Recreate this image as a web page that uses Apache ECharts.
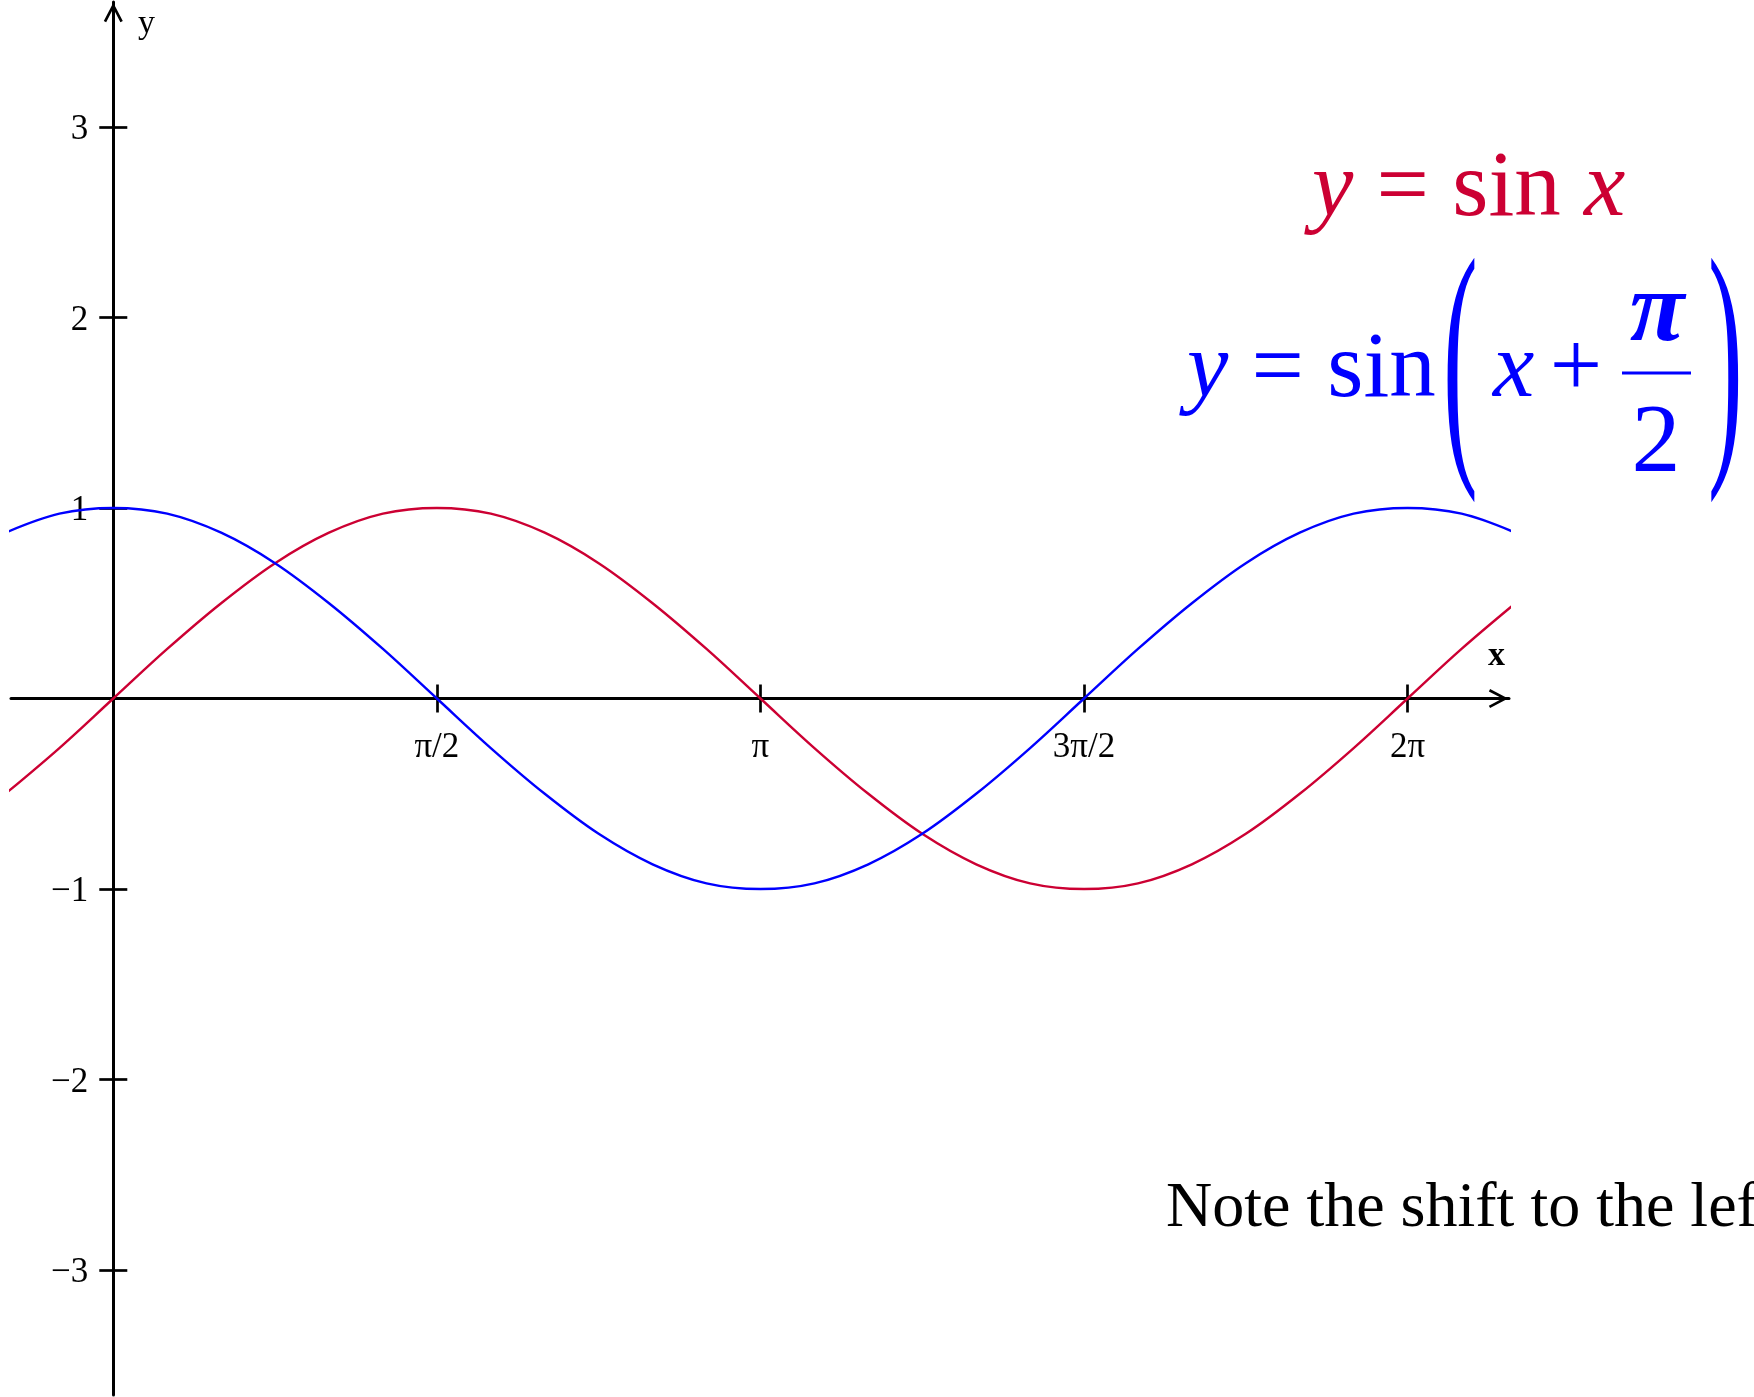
<!DOCTYPE html>
<html>
<head>
<meta charset="utf-8">
<script src="https://cdn.jsdelivr.net/npm/echarts@6/dist/echarts.min.js"></script>
<style>
  html, body { margin: 0; padding: 0; background: #ffffff; }
  #chart { width: 1754px; height: 1397px; }
</style>
</head>
<body>
<div id="chart"></div>
<script>
// Angle samples in degrees (90° = π/2)
const xDegrees = [-30, -15, 0, 15, 30, 45, 60, 75, 90, 105, 120, 135, 150, 165, 180,
  195, 210, 225, 240, 255, 270, 285, 300, 315, 330, 345, 360, 375, 390];

// y = sin x
const sinValues = [-0.5, -0.26, 0, 0.26, 0.5, 0.71, 0.87, 0.97, 1, 0.97, 0.87, 0.71, 0.5, 0.26, 0,
  -0.26, -0.5, -0.71, -0.87, -0.97, -1, -0.97, -0.87, -0.71, -0.5, -0.26, 0, 0.26, 0.5];

// y = sin(x + π/2)
const shiftedValues = [0.87, 0.97, 1, 0.97, 0.87, 0.71, 0.5, 0.26, 0, -0.26, -0.5, -0.71, -0.87, -0.97, -1,
  -0.97, -0.87, -0.71, -0.5, -0.26, 0, 0.26, 0.5, 0.71, 0.87, 0.97, 1, 0.97, 0.87];

// Axis ticks
const xTickValues = [90, 180, 270, 360];
const xTickLabels = ['π/2', 'π', '3π/2', '2π'];
const yTickValues = [-3, -2, -1, 1, 2, 3];

const X_MIN = -28.45, X_MAX = 388.2;
const Y_MIN = -3.655, Y_MAX = 3.655;

const RED = '#CC0033';
const BLUE = '#0000FF';
const SERIF = '"Liberation Serif", "Times New Roman", serif';

// Open chevron arrow head for the axis ends
const ARROW = 'path://M10,0 L20,19 L17.5,20.3 L10,6 L2.5,20.3 L0,19 Z';

const GRID = { left: 11, right: 245, top: 2, bottom: 2 };

const el = document.getElementById('chart');
const chart = echarts.init(el, null, { renderer: 'canvas' });
const gridW = chart.getWidth() - GRID.left - GRID.right;
const gridH = chart.getHeight() - GRID.top - GRID.bottom;

// Offsets that put each axis through the origin (both axes cross at 0)
const xBottomOffset = -gridH * (0 - Y_MIN) / (Y_MAX - Y_MIN);
const xTopOffset = -gridH * (Y_MAX - 0) / (Y_MAX - Y_MIN);
const yLeftOffset = -gridW * (0 - X_MIN) / (X_MAX - X_MIN);
const yRightOffset = -gridW * (X_MAX - 0) / (X_MAX - X_MIN);

const tickLabelFor = v => xTickLabels[xTickValues.indexOf(v)] || '';

const axisCommon = {
  type: 'value',
  splitLine: { show: false },
  splitArea: { show: false },
  axisPointer: { show: false }
};

// main axis draws line, outer half of ticks and labels; the twin draws the other tick half
function xAxisDef(main) {
  return Object.assign({}, axisCommon, {
    min: X_MIN, max: X_MAX,
    position: main ? 'bottom' : 'top',
    offset: main ? xBottomOffset : xTopOffset,
    axisLine: main ? {
      show: true, onZero: false,
      symbol: ['none', ARROW], symbolSize: [19, 21], symbolOffset: [0, -10.5],
      lineStyle: { color: '#000', width: 3 }
    } : { show: false, onZero: false },
    axisTick: { show: true, customValues: xTickValues, length: 14, lineStyle: { color: '#000', width: 2.7 } },
    axisLabel: main ? {
      show: true, customValues: xTickValues, margin: 32,
      formatter: tickLabelFor,
      fontFamily: SERIF, fontSize: 35, color: '#000', lineHeight: 35
    } : { show: false }
  });
}

function yAxisDef(main) {
  return Object.assign({}, axisCommon, {
    min: Y_MIN, max: Y_MAX,
    position: main ? 'left' : 'right',
    offset: main ? yLeftOffset : yRightOffset,
    axisLine: main ? {
      show: true, onZero: false,
      symbol: ['none', ARROW], symbolSize: [19, 21], symbolOffset: [0, -10.5],
      lineStyle: { color: '#000', width: 3 }
    } : { show: false, onZero: false },
    axisTick: { show: true, customValues: yTickValues, length: 14, lineStyle: { color: '#000', width: 2.7 } },
    axisLabel: main ? {
      show: true, customValues: yTickValues, margin: 25,
      formatter: v => String(v).replace('-', '\u2212'),
      fontFamily: SERIF, fontSize: 35, color: '#000', verticalAlign: 'top', lineHeight: 6
    } : { show: false }
  });
}

const toPairs = vals => xDegrees.map((x, i) => [x, vals[i]]);

// Formula and note text
const mid = (baseline, size) => baseline - 0.3375 * size;
const F = 93;
const graphics = [
  // axis names
  { type: 'text', x: 138, y: mid(36, 34), z: 10,
    style: { text: 'y', fontFamily: SERIF, fontSize: 34, fill: '#000', align: 'left', verticalAlign: 'middle' } },
  { type: 'text', x: 1488, y: mid(668, 34), z: 10,
    style: { text: 'x', fontFamily: SERIF, fontSize: 34, fontWeight: 'bold', fill: '#000', align: 'left', verticalAlign: 'middle' } },

  // y = sin x
  { type: 'text', x: 1312, y: mid(222, F), z: 10,
    style: { text: '{i|y} = sin {i|x}', fontFamily: SERIF, fontSize: F, fill: RED, align: 'left', verticalAlign: 'middle',
      rich: { i: { fontFamily: SERIF, fontSize: F, fontStyle: 'italic', fill: RED } } } },

  // y = sin(x + π/2)
  { type: 'text', x: 1187, y: mid(403, F), z: 10,
    style: { text: '{i|y} = sin', fontFamily: SERIF, fontSize: F, fill: BLUE, align: 'left', verticalAlign: 'middle',
      rich: { i: { fontFamily: SERIF, fontSize: F, fontStyle: 'italic', fill: BLUE } } } },
  { type: 'text', x: 1443, y: 374, scaleX: 1.12, scaleY: 2.9, z: 10,
    style: { text: '(', fontFamily: SERIF, fontSize: F, fill: BLUE, align: 'left', verticalAlign: 'middle' } },
  { type: 'text', x: 1493, y: mid(403, F), z: 10,
    style: { text: 'x', fontFamily: SERIF, fontSize: F, fontStyle: 'italic', fill: BLUE, align: 'left', verticalAlign: 'middle' } },
  { type: 'text', x: 1576, y: mid(403, F), z: 10,
    style: { text: '+', fontFamily: SERIF, fontSize: F, fill: BLUE, align: 'center', verticalAlign: 'middle' } },
  { type: 'text', x: 1657, y: mid(348, 100), z: 10,
    style: { text: 'π', fontFamily: SERIF, fontSize: 100, fontStyle: 'italic', fontWeight: 'bold', fill: BLUE, align: 'center', verticalAlign: 'middle' } },
  { type: 'line', z: 10, shape: { x1: 1622, y1: 373, x2: 1691, y2: 373 }, style: { stroke: BLUE, lineWidth: 3 } },
  { type: 'text', x: 1656, y: mid(478, 98), z: 10,
    style: { text: '2', fontFamily: SERIF, fontSize: 98, fill: BLUE, align: 'center', verticalAlign: 'middle' } },
  { type: 'text', x: 1708, y: 374, scaleX: 1.12, scaleY: 2.9, z: 10,
    style: { text: ')', fontFamily: SERIF, fontSize: F, fill: BLUE, align: 'left', verticalAlign: 'middle' } },

  // note
  { type: 'text', x: 1166, y: mid(1231, 64), z: 10,
    style: { text: 'Note the shift to the left', fontFamily: SERIF, fontSize: 64, fill: '#000', align: 'left', verticalAlign: 'middle' } }
];

chart.setOption({
  animation: false,
  backgroundColor: '#ffffff',
  grid: Object.assign({ containLabel: false, outerBoundsMode: 'none' }, GRID),
  xAxis: [xAxisDef(true), xAxisDef(false)],
  yAxis: [yAxisDef(true), yAxisDef(false)],
  series: [
    { name: 'y = sin x', type: 'line', data: toPairs(sinValues), smooth: 0.35, showSymbol: false,
      clip: true, lineStyle: { color: RED, width: 2.4 }, itemStyle: { color: RED }, z: 3 },
    { name: 'y = sin(x + π/2)', type: 'line', data: toPairs(shiftedValues), smooth: 0.35, showSymbol: false,
      clip: true, lineStyle: { color: BLUE, width: 2.4 }, itemStyle: { color: BLUE }, z: 3 }
  ],
  graphic: graphics
});
</script>
</body>
</html>
